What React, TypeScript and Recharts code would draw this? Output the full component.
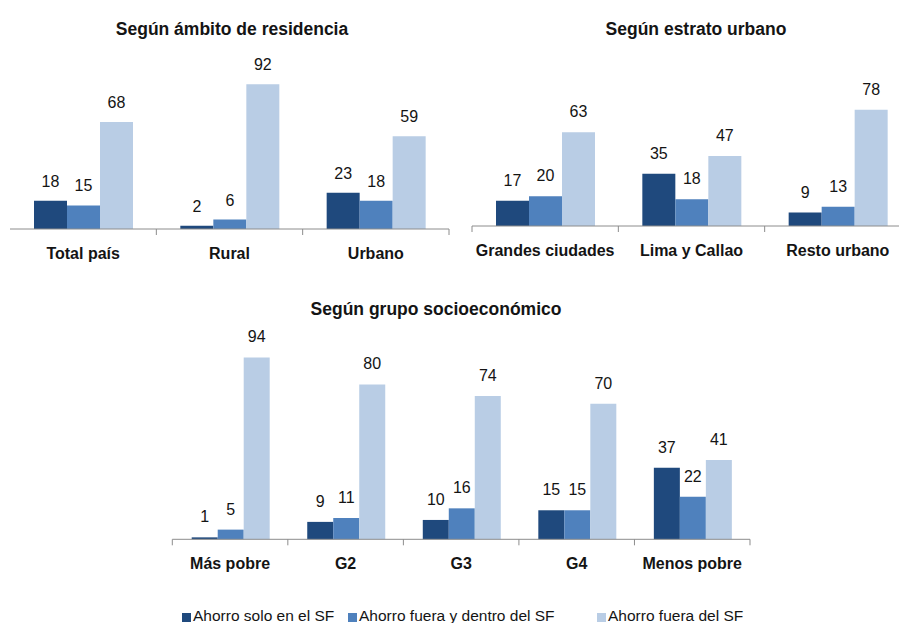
import { BarChart, Bar, XAxis, YAxis, LabelList } from "recharts";

const SERIES = ["Ahorro solo en el SF", "Ahorro fuera y dentro del SF", "Ahorro fuera del SF"];
const COLORS = ["#1F497D", "#4F81BD", "#B9CDE5"];

const residenciaCats = ["Total país", "Rural", "Urbano"];
const residenciaSolo = [18, 2, 23];
const residenciaAmbos = [15, 6, 18];
const residenciaFuera = [68, 92, 59];

const estratoCats = ["Grandes ciudades", "Lima y Callao", "Resto urbano"];
const estratoSolo = [17, 35, 9];
const estratoAmbos = [20, 18, 13];
const estratoFuera = [63, 47, 78];

const grupoCats = ["Más pobre", "G2", "G3", "G4", "Menos pobre"];
const grupoSolo = [1, 9, 10, 15, 37];
const grupoAmbos = [5, 11, 16, 15, 22];
const grupoFuera = [94, 80, 74, 70, 41];

const FONT = "'Liberation Sans', Arial, Helvetica, sans-serif";
const AXIS = "#8c8c8c";
const TEXT = "#141414";

const toRows = (cats: string[], a: number[], b: number[], c: number[]) =>
  cats.map((cat, i) => ({ cat, solo: a[i], ambos: b[i], fuera: c[i] }));

function CatTick(props: any) {
  const { x, y, payload, index, bandWidth, count, firstTick } = props;
  const half = bandWidth / 2;
  return (
    <g>
      {(index > 0 || firstTick) && (
        <line x1={x - half} x2={x - half} y1={y} y2={y + 6} stroke={AXIS} />
      )}
      {index === count - 1 && (
        <line x1={x + half} x2={x + half} y1={y} y2={y + 6} stroke={AXIS} />
      )}
      <text x={x} y={y + 30} textAnchor="middle" fontFamily={FONT} fontWeight="bold" fontSize={16} fill={TEXT}>
        {payload.value}
      </text>
    </g>
  );
}

interface PanelProps {
  rows: any[];
  left: number;
  top: number;
  width: number;
  plotLeft: number;
  plotRight: number;
  plotTop: number;
  plotHeight: number;
  gap: number;
  labelOffset: number;
  firstTick: boolean;
}

function Panel({ rows, left, top, width, plotLeft, plotRight, plotTop, plotHeight, gap, labelOffset, firstTick }: PanelProps) {
  const axisH = 40;
  const height = plotTop + plotHeight + axisH;
  const bandWidth = (width - plotLeft - plotRight) / rows.length;
  const keys = ["solo", "ambos", "fuera"];
  return (
    <div style={{ position: "absolute", left, top }}>
      <BarChart
        width={width}
        height={height}
        data={rows}
        margin={{ top: plotTop, right: plotRight, bottom: 0, left: plotLeft }}
        barCategoryGap={gap}
        barGap={0}
      >
        <XAxis
          dataKey="cat"
          height={axisH}
          tickSize={0}
          tickMargin={0}
          tickLine={false}
          axisLine={{ stroke: AXIS, strokeWidth: 1 }}
          interval={0}
          tick={(p: any) => (
            <CatTick {...p} bandWidth={bandWidth} count={rows.length} firstTick={firstTick} />
          )}
        />
        <YAxis hide domain={[0, 100]} />
        {keys.map((k, i) => (
          <Bar key={k} dataKey={k} name={SERIES[i]} fill={COLORS[i]} isAnimationActive={false}>
            <LabelList dataKey={k} position="top" offset={labelOffset} fontSize={16} fontFamily={FONT} fill={TEXT} />
          </Bar>
        ))}
      </BarChart>
    </div>
  );
}

function Title({ text, cx, baseline }: { text: string; cx: number; baseline: number }) {
  return (
    <div
      style={{
        position: "absolute",
        left: cx - 200,
        width: 400,
        top: baseline - 16,
        textAlign: "center",
        fontFamily: FONT,
        fontWeight: "bold",
        fontSize: 17.5,
        lineHeight: "20px",
        color: TEXT,
      }}
    >
      {text}
    </div>
  );
}

const LEGEND_X = [182, 348, 597];

export default function App() {
  return (
    <div
      style={{
        position: "absolute",
        left: 0,
        top: 0,
        width: 899,
        height: 623,
        overflow: "hidden",
        background: "#fff",
      }}
    >
      <Title text="Según ámbito de residencia" cx={232} baseline={35} />
      <Title text="Según estrato urbano" cx={696} baseline={35} />
      <Title text="Según grupo socioeconómico" cx={436} baseline={315} />

      <Panel
        rows={toRows(residenciaCats, residenciaSolo, residenciaAmbos, residenciaFuera)}
        left={0}
        top={0}
        width={460}
        plotLeft={10}
        plotRight={11}
        plotTop={71.6}
        plotHeight={157.4}
        gap={24}
        labelOffset={14}
        firstTick={false}
      />
      <Panel
        rows={toRows(estratoCats, estratoSolo, estratoAmbos, estratoFuera)}
        left={460}
        top={0}
        width={451}
        plotLeft={12}
        plotRight={0}
        plotTop={77}
        plotHeight={149}
        gap={24}
        labelOffset={15}
        firstTick={true}
      />
      <Panel
        rows={toRows(grupoCats, grupoSolo, grupoAmbos, grupoFuera)}
        left={160}
        top={280}
        width={600}
        plotLeft={12.3}
        plotRight={10}
        plotTop={65.8}
        plotHeight={193.5}
        gap={19.4}
        labelOffset={15}
        firstTick={true}
      />

      {SERIES.map((s, i) => (
        <div
          key={s}
          style={{
            position: "absolute",
            left: LEGEND_X[i],
            top: 607,
            display: "flex",
            alignItems: "center",
            fontFamily: FONT,
            fontSize: 15.5,
            lineHeight: "18px",
            color: TEXT,
            whiteSpace: "nowrap",
          }}
        >
          <span style={{ display: "inline-block", width: 9, height: 9, background: COLORS[i], marginRight: 2, marginTop: 3 }} />
          {s}
        </div>
      ))}
    </div>
  );
}
